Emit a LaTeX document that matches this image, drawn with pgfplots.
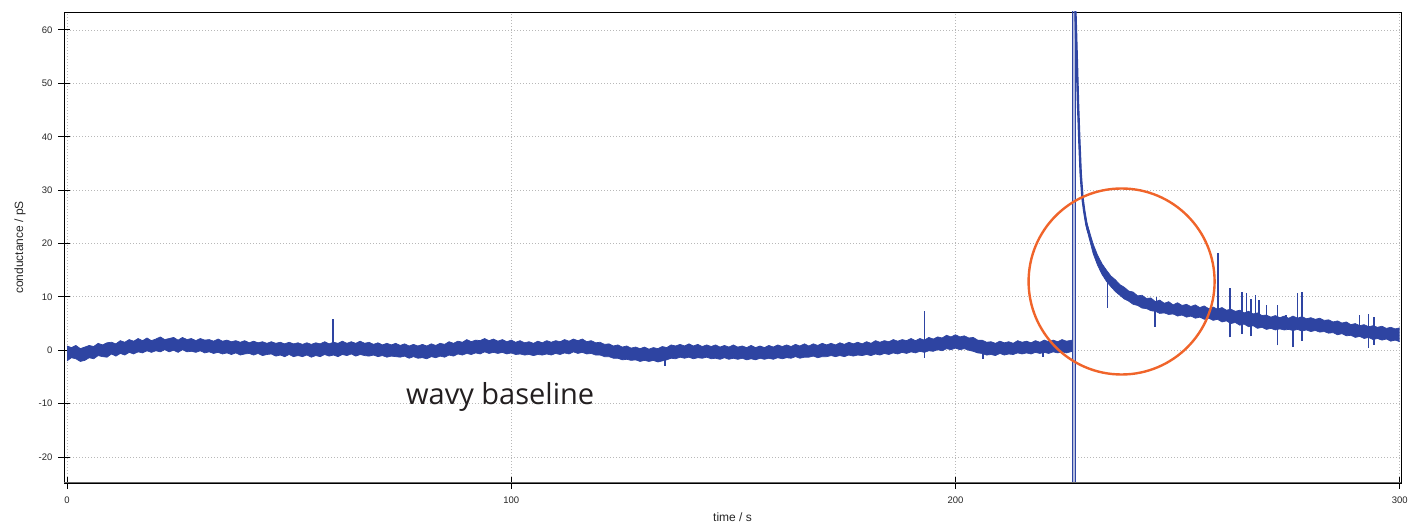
\documentclass[border=0pt]{standalone}
\usepackage{fontspec}
\setmainfont{Liberation Sans}
\newfontfamily\annot{Open Sans}
\usepackage{pgfplots}
\usepackage{pgfplotstable}
\usepgfplotslibrary{fillbetween}
\pgfplotsset{compat=1.18}
\definecolor{trace}{RGB}{46,68,162}
\definecolor{circ}{RGB}{240,100,42}
\definecolor{ann}{RGB}{35,31,32}

% baseline band: time, upper envelope, lower envelope
\pgfplotstableread{
t u l
0 0.8 -2.0
1 0.5 -1.4
2 0.9 -1.6
3 0.3 -2.1
4 0.6 -1.9
5 0.9 -1.4
6 0.7 -1.6
7 1.3 -1.0
8 1.0 -1.2
9 1.4 -1.3
10 1.5 -0.7
11 1.2 -1.1
12 1.8 -0.6
13 1.5 -0.9
14 2.0 -0.4
15 1.7 -0.7
16 2.2 -0.3
17 1.8 -0.5
18 2.3 -0.1
19 1.8 -0.4
20 2.1 -0.1
21 2.5 -0.3
22 2.0 0.1
23 2.2 -0.3
24 2.4 0.0
25 1.9 -0.4
26 2.4 0.1
27 2.0 -0.3
28 2.2 -0.2
29 1.8 -0.4
30 2.2 -0.1
31 1.9 -0.5
32 2.0 -0.3
33 1.7 -0.6
34 2.1 -0.4
35 1.7 -0.7
36 1.9 -0.5
37 1.6 -0.8
38 1.8 -0.5
39 1.5 -0.9
40 1.8 -0.7
41 1.4 -0.6
42 1.7 -0.9
43 1.4 -0.6
44 1.6 -1.0
45 1.3 -0.8
46 1.6 -0.7
47 1.3 -1.1
48 1.5 -0.9
49 1.2 -1.2
50 1.5 -0.8
51 1.2 -1.2
52 1.4 -1.0
53 1.1 -1.2
54 1.4 -0.9
55 1.1 -1.3
56 1.4 -1.0
57 1.2 -1.2
58 1.6 -0.8
59 1.2 -1.1
60 1.5 -0.9
61 1.3 -1.2
62 1.7 -0.8
63 1.3 -1.0
64 1.6 -0.7
65 1.3 -1.1
66 1.7 -0.8
67 1.3 -1.0
68 1.5 -1.1
69 1.1 -0.9
70 1.4 -1.2
71 1.0 -1.0
72 1.3 -1.3
73 1.0 -1.1
74 1.3 -1.2
75 0.9 -1.3
76 1.2 -1.1
77 0.8 -1.5
78 1.1 -1.2
79 0.8 -1.5
80 1.1 -1.4
81 0.8 -1.6
82 1.2 -1.2
83 0.9 -1.4
84 1.3 -1.1
85 1.1 -1.3
86 1.6 -0.9
87 1.3 -1.1
88 1.7 -0.7
89 1.5 -0.9
90 2.0 -0.6
91 1.6 -0.8
92 1.9 -0.5
93 1.8 -0.7
94 2.2 -0.3
95 1.8 -0.6
96 2.1 -0.4
97 1.7 -0.6
98 2.0 -0.4
99 1.6 -0.7
100 1.9 -0.5
101 1.5 -0.8
102 1.8 -0.7
103 1.4 -0.9
104 1.6 -0.8
105 1.3 -1.0
106 1.7 -0.8
107 1.4 -0.9
108 1.8 -0.7
109 1.5 -0.9
110 1.8 -0.6
111 1.6 -0.8
112 2.0 -0.5
113 1.7 -0.7
114 2.1 -0.3
115 1.8 -0.6
116 2.1 -0.4
117 1.6 -0.7
118 1.8 -0.6
119 1.4 -0.9
120 1.5 -0.9
121 1.1 -1.2
122 1.2 -1.2
123 0.8 -1.5
124 1.0 -1.5
125 0.6 -1.8
126 0.8 -1.7
127 0.4 -1.9
128 0.6 -1.8
129 0.3 -2.1
130 0.6 -1.9
131 0.2 -2.1
132 0.5 -1.9
133 0.3 -2.2
134 0.7 -2.0
135 0.5 -1.8
136 1.0 -1.5
137 0.8 -1.6
138 1.1 -1.3
139 0.8 -1.5
140 1.2 -1.3
141 0.8 -1.6
142 1.1 -1.4
143 0.7 -1.5
144 1.0 -1.3
145 0.7 -1.6
146 1.0 -1.5
147 0.6 -1.7
148 0.9 -1.4
149 0.6 -1.7
150 1.0 -1.5
151 0.6 -1.7
152 0.8 -1.5
153 0.5 -1.8
154 0.9 -1.6
155 0.5 -1.8
156 0.8 -1.5
157 0.5 -1.7
158 0.9 -1.5
159 0.6 -1.7
160 1.0 -1.4
161 0.7 -1.6
162 1.0 -1.4
163 0.7 -1.5
164 1.1 -1.2
165 0.8 -1.5
166 1.2 -1.3
167 0.8 -1.3
168 1.2 -1.1
169 0.9 -1.4
170 1.3 -1.2
171 1.0 -1.2
172 1.3 -1.0
173 1.0 -1.2
174 1.4 -1.0
175 1.1 -1.2
176 1.5 -0.9
177 1.2 -1.1
178 1.5 -0.9
179 1.2 -1.0
180 1.6 -0.8
181 1.3 -1.0
182 1.8 -0.7
183 1.5 -0.9
184 1.8 -0.6
185 1.6 -0.8
186 2.0 -0.5
187 1.7 -0.7
188 2.0 -0.4
189 1.8 -0.6
190 2.2 -0.3
191 1.8 -0.5
192 2.2 -0.2
193 1.9 -0.4
194 2.4 -0.1
195 2.1 -0.2
196 2.5 0.1
197 2.3 -0.1
198 2.8 0.3
199 2.5 0.1
200 2.9 0.4
201 2.5 0.1
202 2.7 0.3
203 2.3 0.0
204 2.4 -0.2
205 1.9 -0.5
206 1.9 -0.6
207 1.5 -0.9
208 1.6 -0.8
209 1.3 -1.0
210 1.7 -0.6
211 1.4 -0.9
212 1.6 -0.7
213 1.3 -0.8
214 1.8 -0.5
215 1.5 -0.7
216 1.7 -0.5
217 1.4 -0.7
218 1.8 -0.4
219 1.5 -0.6
220 1.9 -0.4
221 1.6 -0.6
222 1.9 -0.3
223 1.6 -0.5
224 2.0 -0.3
225 1.7 -0.5
226.3 1.9 -0.2
}\baseline

% decay band after the pulse
\pgfplotstableread{
t u l
229.0 26.5 25.5
229.5 24.1 22.9
230 22.7 21.3
231 19.9 18.1
232 17.8 15.9
233 16.2 14.2
234 15.0 12.9
235 13.9 11.9
236 13.2 11.0
237 12.3 10.3
238 11.8 9.6
239 11.1 9.2
240 10.9 8.6
241 10.2 8.4
242 10.3 7.9
243 9.7 7.8
244 9.8 7.4
245 9.1 7.3
246 9.4 6.9
247 8.8 7.0
248 9.1 6.7
249 8.5 6.8
250 8.9 6.4
251 8.4 6.6
252 8.6 6.2
253 8.2 6.4
254 8.5 6.0
255 8.0 6.2
256 8.3 5.8
257 7.8 6.0
258 8.1 5.6
259 7.7 5.8
260 8.0 5.3
261 7.5 5.5
262 7.7 5.0
263 7.3 5.2
264 7.5 4.7
265 7.0 4.9
266 7.3 4.4
267 6.8 4.6
268 7.0 4.1
269 6.5 4.3
270 6.6 3.9
271 6.2 4.1
272 6.5 3.8
273 6.1 4.0
274 6.4 3.8
275 6.0 3.9
276 6.4 3.7
277 6.0 3.9
278 6.3 3.6
279 5.9 3.8
280 6.1 3.5
281 5.8 3.7
282 6.0 3.4
283 5.6 3.5
284 5.7 3.2
285 5.3 3.3
286 5.5 2.9
287 5.1 3.1
288 5.3 2.7
289 4.8 2.8
290 5.0 2.4
291 4.6 2.6
292 4.8 2.2
293 4.4 2.4
294 4.6 2.0
295 4.3 2.2
296 4.5 1.9
297 4.1 2.1
298 4.3 1.7
299 4.0 1.9
300 4.2 1.6
}\decay

\begin{document}
\begin{tikzpicture}
\begin{axis}[
  scale only axis,
  width=1337pt, height=471pt,
  xmin=-0.68, xmax=300.3,
  ymin=-24.87, ymax=63.37,
  xtick={0,100,200,300},
  ytick={-20,-10,0,10,20,30,40,50,60},
  xtick pos=bottom, ytick pos=left,
  tick align=center,
  major tick length=12pt,
  tick style={black, line width=1pt},
  grid=major,
  grid style={dash pattern=on 1pt off 2pt, black!28, line width=0.9pt},
  axis line style={black, line width=0.9pt},
  /pgf/number format/assume math mode=true,
  tick label style={font=\fontsize{9.5}{11}\selectfont, text=black!85},
  xticklabel style={yshift=-4pt},
  yticklabel style={xshift=-2pt},
  label style={font=\fontsize{12}{14}\selectfont, text=black!85},
  xlabel={time / s},
  ylabel={conductance / pS},
  xlabel style={at={(axis description cs:0.5,-0.0722)}, anchor=center},
  ylabel style={at={(axis description cs:-0.0329,0.5)}, anchor=center},
]
% baseline noisy band
\addplot[name path=BU, trace, line width=0.7pt] table[x=t, y=u] {\baseline};
\addplot[name path=BL, trace, line width=0.7pt] table[x=t, y=l] {\baseline};
\addplot[trace] fill between[of=BU and BL];
% decay noisy band
\addplot[name path=DU, trace, line width=0.7pt] table[x=t, y=u] {\decay};
\addplot[name path=DL, trace, line width=0.7pt] table[x=t, y=l] {\decay};
\addplot[trace] fill between[of=DU and DL];
% the pulse and the steep start of the decay
\addplot[trace, line width=1.2pt] coordinates {
 (226.3,0.8) (226.4,0.8) (226.4,-25.5) (226.4,64) (226.95,64) (226.95,-25.5) (226.95,64)
 (227.0,63.5) (227.3,55) (227.6,46) (227.9,39) (228.2,33) (228.6,28.5) (229.0,26) (229.5,23.5) (230,22)
};
\addplot[trace, line width=2.4pt] coordinates {
 (227.0,63.5) (227.3,55) (227.6,46) (227.9,39) (228.2,33) (228.6,28.5) (229.0,26) (229.5,23.5) (230,22)
};
% spikes
\pgfplotsset{spike/.style={trace, line width=1.3pt}}
\addplot[spike] coordinates {(59.9,0.3) (59.9,5.8)};
\addplot[spike] coordinates {(134.6,-0.5) (134.6,-2.9)};
\addplot[spike] coordinates {(193.0,0.9) (193.0,7.4)};
\addplot[spike] coordinates {(193.1,0.2) (193.1,-1.4)};
\addplot[spike] coordinates {(206.2,0.4) (206.2,-1.6)};
\addplot[spike] coordinates {(219.7,0.6) (219.7,-1.3)};
\addplot[spike] coordinates {(234.3,13.5) (234.3,7.9)};
\addplot[spike] coordinates {(244.9,8.5) (244.9,4.3)};
\addplot[spike] coordinates {(245.3,8.5) (245.3,9.9)};
\addplot[spike] coordinates {(259.1,6.7) (259.1,18.2)};
\addplot[spike] coordinates {(261.8,2.4) (261.8,11.6)};
\addplot[spike] coordinates {(264.5,3.0) (264.5,11.0)};
\addplot[spike] coordinates {(265.5,5.5) (265.5,10.8)};
\addplot[spike] coordinates {(266.5,2.6) (266.5,9.6)};
\addplot[spike] coordinates {(267.5,5.3) (267.5,10.3)};
\addplot[spike] coordinates {(268.3,5.3) (268.3,9.5)};
\addplot[spike] coordinates {(270.0,4.5) (270.0,8.4)};
\addplot[spike] coordinates {(272.5,0.9) (272.5,8.5)};
\addplot[spike] coordinates {(274.4,4.5) (274.4,6.6)};
\addplot[spike] coordinates {(276.0,0.6) (276.0,5.0)};
\addplot[spike] coordinates {(277.0,4.5) (277.0,10.7)};
\addplot[spike] coordinates {(278.0,1.8) (278.0,11.0)};
\addplot[spike] coordinates {(291.0,3.5) (291.0,6.6)};
\addplot[spike] coordinates {(293.0,0.4) (293.0,6.8)};
\addplot[spike] coordinates {(294.2,1.0) (294.2,6.3)};
% bottom axis line in grey
\draw[black!60, line width=2pt] (rel axis cs:0,0) -- (rel axis cs:1,0);
% annotation
\draw[circ, line width=2.4pt] (axis cs:237.4,12.88) circle[radius=93pt];
\node[ann, inner sep=0pt, font=\annot\fontsize{29}{32}\selectfont] at (axis cs:97.5,-8.76) {wavy baseline};
\end{axis}
\pgfresetboundingbox
\path[use as bounding box] (-64pt,-46pt) rectangle (1362pt,483pt);
\end{tikzpicture}
\end{document}
